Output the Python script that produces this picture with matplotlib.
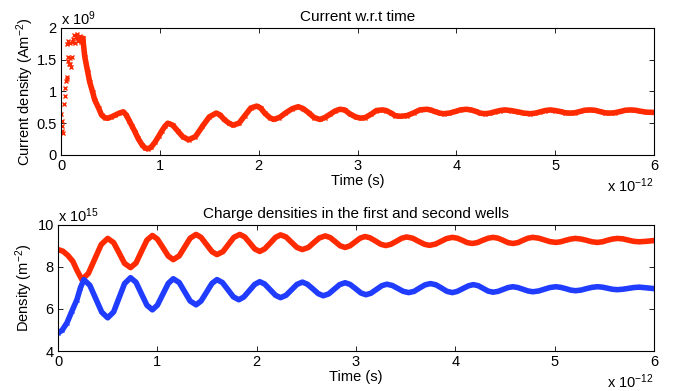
import matplotlib
matplotlib.use("Agg")
import matplotlib.pyplot as plt

plt.rcParams['font.family'] = ['Liberation Sans', 'DejaVu Sans']
plt.rcParams['mathtext.default'] = 'regular'

RED = '#ff2a00'
BLUE = '#1f3cff'

# ---- Top panel: current density (time in ps, current in 1e9 A/m^2) ----
cur_scatter_t = [0.000, 0.005, 0.008, 0.012, 0.018, 0.035, 0.040, 0.045, 0.050, 0.060, 0.065,
                 0.070, 0.075, 0.080, 0.090, 0.095, 0.100, 0.110, 0.060, 0.075, 0.090, 0.110,
                 0.120, 0.135, 0.140, 0.150, 0.160, 0.165, 0.170, 0.180, 0.190, 0.200, 0.210, 0.220]
cur_scatter_y = [0.64, 0.53, 0.45, 0.38, 0.35, 0.80, 0.93, 1.06, 1.17, 1.23, 1.20,
                 1.54, 1.48, 1.43, 1.52, 1.44, 1.39, 1.55, 1.75, 1.80, 1.76, 1.78,
                 1.82, 1.89, 1.76, 1.86, 1.90, 1.84, 1.80, 1.85, 1.88, 1.78, 1.83, 1.84]

cur_t = [0.22, 0.24, 0.27, 0.29, 0.32, 0.34, 0.38, 0.41, 0.44, 0.47, 0.51, 0.55, 0.59, 0.63,
         0.66, 0.69, 0.72, 0.75, 0.78, 0.82, 0.85, 0.88, 0.91, 0.95, 0.99, 1.02, 1.05, 1.08,
         1.13, 1.18, 1.23, 1.29, 1.36, 1.43, 1.50, 1.57, 1.61, 1.65, 1.70, 1.74, 1.80, 1.86,
         1.92, 1.98, 2.02, 2.06, 2.11, 2.15, 2.21, 2.27, 2.34, 2.40, 2.45, 2.51, 2.56, 2.62,
         2.67, 2.72, 2.77, 2.82, 2.87, 2.92, 2.98, 3.03, 3.08, 3.14, 3.19, 3.25, 3.29, 3.34,
         3.38, 3.43, 3.50, 3.57, 3.63, 3.70, 3.74, 3.78, 3.83, 3.87, 3.93, 3.99, 4.04, 4.10,
         4.15, 4.20, 4.24, 4.29, 4.34, 4.39, 4.44, 4.49, 4.55, 4.62, 4.68, 4.75, 4.80, 4.85,
         4.90, 4.95, 5.00, 5.05, 5.10, 5.15, 5.20, 5.25, 5.30, 5.35, 5.40, 5.45, 5.50, 5.55,
         5.60, 5.66, 5.71, 5.76, 5.81, 5.86, 5.92, 6.00]
cur_y = [1.84, 1.55, 1.31, 1.15, 0.99, 0.87, 0.74, 0.63, 0.59, 0.58, 0.60, 0.63, 0.66, 0.68,
         0.63, 0.54, 0.45, 0.36, 0.26, 0.16, 0.11, 0.10, 0.12, 0.20, 0.30, 0.38, 0.45, 0.50,
         0.47, 0.38, 0.29, 0.24, 0.29, 0.45, 0.60, 0.66, 0.63, 0.56, 0.50, 0.47, 0.50, 0.62,
         0.74, 0.77, 0.74, 0.66, 0.59, 0.56, 0.59, 0.66, 0.73, 0.76, 0.73, 0.66, 0.59, 0.56,
         0.59, 0.64, 0.69, 0.72, 0.71, 0.65, 0.60, 0.58, 0.59, 0.645, 0.70, 0.71, 0.70, 0.66,
         0.62, 0.61, 0.62, 0.665, 0.71, 0.72, 0.71, 0.685, 0.66, 0.65, 0.66, 0.685, 0.71, 0.72,
         0.71, 0.685, 0.66, 0.65, 0.66, 0.68, 0.70, 0.71, 0.70, 0.68, 0.66, 0.65, 0.66, 0.68,
         0.70, 0.71, 0.70, 0.685, 0.665, 0.66, 0.665, 0.685, 0.705, 0.71, 0.705, 0.685, 0.665, 0.66,
         0.665, 0.685, 0.705, 0.71, 0.705, 0.69, 0.675, 0.67]

# ---- Bottom panel: charge densities (time in ps, density in 1e15 m^-2) ----
well1_t = [0.00, 0.05, 0.10, 0.15, 0.19, 0.24, 0.305, 0.37, 0.435, 0.50, 0.56, 0.615, 0.67, 0.73,
           0.785, 0.84, 0.895, 0.95, 1.00, 1.055, 1.11, 1.16, 1.22, 1.275, 1.33, 1.39, 1.44, 1.495,
           1.55, 1.60, 1.66, 1.715, 1.77, 1.83, 1.88, 1.93, 1.98, 2.03, 2.08, 2.135, 2.19, 2.24,
           2.295, 2.35, 2.405, 2.46, 2.52, 2.575, 2.63, 2.69, 2.74, 2.79, 2.84, 2.89, 2.94, 2.99,
           3.04, 3.09, 3.14, 3.195, 3.25, 3.30, 3.35, 3.405, 3.46, 3.51, 3.57, 3.63, 3.69, 3.74,
           3.80, 3.855, 3.91, 3.97, 4.02, 4.07, 4.12, 4.17, 4.22, 4.275, 4.33, 4.38, 4.43, 4.48,
           4.53, 4.58, 4.63, 4.68, 4.73, 4.78, 4.84, 4.895, 4.95, 5.01, 5.06, 5.11, 5.16, 5.21,
           5.265, 5.32, 5.375, 5.43, 5.48, 5.53, 5.58, 5.63, 5.685, 5.74, 5.795, 5.85, 5.92, 6.00]
well1_y = [8.83, 8.75, 8.55, 8.26, 7.85, 7.40, 7.69, 8.38, 9.07, 9.36, 9.16, 8.67, 8.17, 7.97,
           8.19, 8.74, 9.28, 9.50, 9.33, 8.93, 8.52, 8.35, 8.53, 8.95, 9.37, 9.55, 9.41, 9.07,
           8.73, 8.59, 8.73, 9.07, 9.41, 9.55, 9.43, 9.15, 8.86, 8.74, 8.86, 9.13, 9.41, 9.53,
           9.43, 9.18, 8.93, 8.83, 8.93, 9.16, 9.38, 9.48, 9.40, 9.21, 9.01, 8.93, 9.01, 9.19,
           9.37, 9.45, 9.39, 9.24, 9.08, 9.02, 9.08, 9.22, 9.37, 9.43, 9.37, 9.22, 9.08, 9.03,
           9.09, 9.22, 9.35, 9.41, 9.37, 9.27, 9.16, 9.12, 9.16, 9.27, 9.37, 9.41, 9.37, 9.27,
           9.16, 9.12, 9.16, 9.27, 9.37, 9.41, 9.37, 9.29, 9.21, 9.17, 9.20, 9.27, 9.33, 9.36,
           9.33, 9.27, 9.20, 9.17, 9.20, 9.27, 9.33, 9.36, 9.34, 9.28, 9.22, 9.20, 9.22, 9.26]

well2_t = [0.00, 0.04, 0.09, 0.14, 0.19, 0.225, 0.26, 0.32, 0.38, 0.44, 0.50, 0.56, 0.615, 0.67,
           0.73, 0.785, 0.84, 0.895, 0.95, 1.00, 1.055, 1.11, 1.16, 1.22, 1.275, 1.33, 1.39, 1.44,
           1.495, 1.55, 1.60, 1.655, 1.71, 1.765, 1.82, 1.87, 1.925, 1.98, 2.03, 2.08, 2.135, 2.19,
           2.24, 2.295, 2.35, 2.405, 2.46, 2.51, 2.565, 2.62, 2.67, 2.725, 2.78, 2.835, 2.89, 2.94,
           2.995, 3.05, 3.10, 3.15, 3.205, 3.26, 3.31, 3.365, 3.42, 3.475, 3.53, 3.585, 3.64, 3.695,
           3.75, 3.805, 3.86, 3.915, 3.97, 4.02, 4.075, 4.13, 4.18, 4.23, 4.28, 4.33, 4.38, 4.43,
           4.48, 4.53, 4.58, 4.63, 4.68, 4.73, 4.78, 4.84, 4.895, 4.95, 5.01, 5.06, 5.11, 5.16,
           5.21, 5.265, 5.32, 5.375, 5.43, 5.48, 5.53, 5.58, 5.63, 5.685, 5.74, 5.795, 5.85, 5.92, 6.00]
well2_y = [4.86, 4.98, 5.34, 5.90, 6.44, 7.00, 7.40, 7.13, 6.49, 5.85, 5.58, 5.86, 6.54, 7.21,
           7.49, 7.27, 6.72, 6.18, 5.96, 6.18, 6.70, 7.22, 7.44, 7.26, 6.82, 6.38, 6.20, 6.38,
           6.80, 7.22, 7.40, 7.26, 6.92, 6.58, 6.44, 6.57, 6.87, 7.17, 7.30, 7.19, 6.92, 6.65,
           6.54, 6.65, 6.91, 7.17, 7.28, 7.18, 6.96, 6.73, 6.63, 6.72, 6.94, 7.16, 7.25, 7.17,
           6.97, 6.76, 6.68, 6.75, 6.93, 7.11, 7.18, 7.12, 6.98, 6.84, 6.78, 6.84, 7.00, 7.15,
           7.21, 7.15, 7.00, 6.84, 6.78, 6.84, 6.97, 7.10, 7.16, 7.11, 6.98, 6.85, 6.80, 6.84,
           6.93, 7.02, 7.06, 7.02, 6.94, 6.86, 6.82, 6.86, 6.94, 7.02, 7.06, 7.03, 6.97, 6.90,
           6.87, 6.90, 6.97, 7.03, 7.06, 7.04, 6.99, 6.94, 6.92, 6.94, 6.98, 7.02, 7.04, 7.01, 6.97]

xticks = [0, 1, 2, 3, 4, 5, 6]
top_yticks = [0, 0.5, 1, 1.5, 2]
bot_yticks = [4, 6, 8, 10]

fig = plt.figure(figsize=(6.85, 3.91), dpi=100)
ax1 = fig.add_axes([0.0891, 0.6036, 0.8657, 0.3248])
ax2 = fig.add_axes([0.0847, 0.1023, 0.8701, 0.3223])

FS = 10.5
TFS = 11

def style(ax):
    ax.set_xlim(0, 6)
    ax.set_xticks(xticks)
    ax.set_xticklabels([str(t) for t in xticks])
    ax.tick_params(direction='in', top=True, right=True, length=3.5, width=0.6,
                   labelsize=FS)
    ax.tick_params(axis='x', pad=3)
    ax.tick_params(axis='y', pad=3)
    for s in ax.spines.values():
        s.set_linewidth(0.8)

# top
ax1.plot(cur_scatter_t, cur_scatter_y, linestyle='none', marker='x', color=RED,
         markersize=3.5, markeredgewidth=1.0)
ax1.plot(cur_t, cur_y, color=RED, linewidth=4.0, solid_capstyle='round', solid_joinstyle='round')
ax1.plot(cur_t, cur_y, linestyle='none', marker='x', color=RED, markersize=3.5, markeredgewidth=1.0)
style(ax1)
ax1.set_ylim(0, 2)
ax1.set_yticks(top_yticks)
ax1.set_yticklabels(['0', '0.5', '1', '1.5', '2'])
ax1.set_title('Current w.r.t time', fontsize=TFS, pad=5)
ax1.set_xlabel('Time (s)', fontsize=FS, labelpad=0.5)
ax1.set_ylabel('Current density (Am$^{-2}$)', fontsize=FS, labelpad=0)
ax1.text(0.0, 1.0, 'x 10$^{9}$', transform=ax1.transAxes, fontsize=FS, ha='left', va='bottom')
ax1.text(1.0, -0.17, 'x 10$^{-12}$', transform=ax1.transAxes, fontsize=FS, ha='right', va='top')

# bottom
ax2.plot(well1_t, well1_y, color=RED, linewidth=4.0, solid_capstyle='round', solid_joinstyle='round')
ax2.plot(well2_t, well2_y, color=BLUE, linewidth=4.0, solid_capstyle='round', solid_joinstyle='round')
ax2.plot(well2_t[:7], well2_y[:7], linestyle='none', marker='x', color=BLUE,
         markersize=3.5, markeredgewidth=1.0)
style(ax2)
ax2.set_ylim(4, 10)
ax2.set_yticks(bot_yticks)
ax2.set_yticklabels([str(t) for t in bot_yticks])
ax2.set_title('Charge densities in the first and second wells', fontsize=TFS, pad=5)
ax2.set_xlabel('Time (s)', fontsize=FS, labelpad=0.5)
ax2.set_ylabel('Density (m$^{-2}$)', fontsize=FS, labelpad=2)
ax2.text(0.0, 1.0, 'x 10$^{15}$', transform=ax2.transAxes, fontsize=FS, ha='left', va='bottom')
ax2.text(1.0, -0.17, 'x 10$^{-12}$', transform=ax2.transAxes, fontsize=FS, ha='right', va='top')

fig.savefig('out.png', dpi=100)
